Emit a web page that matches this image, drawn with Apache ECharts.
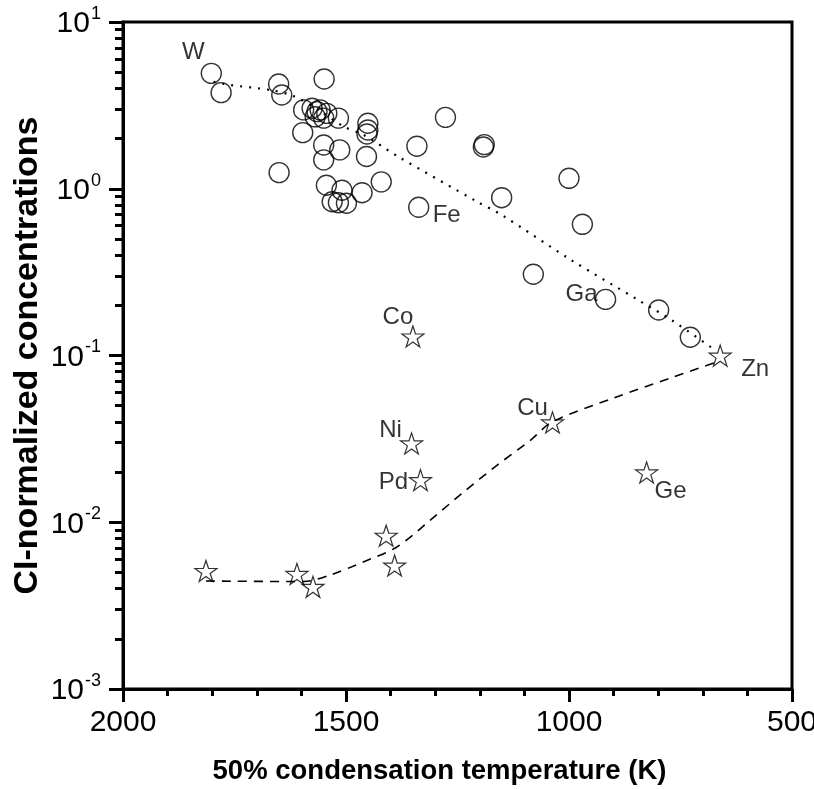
<!DOCTYPE html>
<html>
<head>
<meta charset="utf-8">
<script src="https://cdn.jsdelivr.net/npm/echarts@6/dist/echarts.min.js"></script>
<style>
html,body{margin:0;padding:0;background:#fff;}
#chart{width:814px;height:789px;}
</style>
</head>
<body>
<div id="chart"></div>
<script>
// ---- data ----
const circleTemp = [1802, 1780, 1651, 1644, 1549, 1595, 1576, 1565, 1558, 1543, 1569, 1550, 1517, 1597, 1451, 1451, 1453, 1550, 1514, 1550, 1454, 1341, 1277, 1650, 1544, 1509, 1464, 1421, 1531, 1517, 1499, 1337, 1192, 1190, 1000, 1151, 970, 1080, 918, 799, 728];
const circleConc = [4.92, 3.77, 4.25, 3.65, 4.55, 2.97, 3.04, 2.90, 2.97, 2.83, 2.70, 2.65, 2.65, 2.17, 2.47, 2.25, 2.13, 1.83, 1.71, 1.49, 1.56, 1.80, 2.68, 1.25, 1.05, 0.98, 0.947, 1.10, 0.836, 0.825, 0.818, 0.774, 1.78, 1.84, 1.155, 0.884, 0.612, 0.307, 0.217, 0.1875, 0.1286];
const circleNames = {0: 'W', 31: 'Fe', 38: 'Ga'};

const starTemp = [1350, 1353, 1333, 1410, 1391, 1814, 1610, 1574, 1037, 826, 661];
const starConc = [0.13, 0.0297, 0.0179, 0.0083, 0.0055, 0.0051, 0.0049, 0.0041, 0.0397, 0.0199, 0.0998];
const starNames = ['Co', 'Ni', 'Pd', '', '', '', '', '', 'Cu', 'Ge', 'Zn'];

const dottedTemp = [1797, 1760, 1670, 1618, 1562, 1505, 1460, 1385, 1206, 1150, 998, 846, 770, 671];
const dottedConc = [4.38, 4.19, 3.91, 3.60, 2.97, 2.36, 2.10, 1.57, 0.836, 0.694, 0.378, 0.216, 0.163, 0.107];

const dashedTemp = [1814, 1595, 1535, 1460, 1385, 1311, 1236, 1161, 1086, 1037, 900, 770, 671];
const dashedConc = [0.00444, 0.00441, 0.00483, 0.0058, 0.00713, 0.0103, 0.0152, 0.022, 0.0311, 0.0401, 0.0556, 0.0737, 0.091];

const xTicks = [500, 1000, 1500, 2000];
const yTickExponents = [-3, -2, -1, 0, 1];

// ---- styles ----
const FONT = 'Liberation Sans, Arial, sans-serif';
const NARROW = '"Liberation Sans Narrow", "Arial Narrow", "Liberation Sans", sans-serif';
const labelOffsets = {
  W: [-18, -21], Fe: [28, 8], Ga: [-24, -5],
  Co: [-15, -19], Ni: [-21, -13], Pd: [-27, 2],
  Cu: [-20, -14], Ge: [24, 19], Zn: [35, 14]
};
const STAR = 'path://M0,-100L22.45,-30.9L95.11,-30.9L36.33,11.8L58.78,80.9L0,38.2L-58.78,80.9L-36.33,11.8L-95.11,-30.9L-22.45,-30.9Z';

function withLabel(point, name) {
  if (!name) return point;
  return {
    value: point,
    name: name,
    label: {
      show: true, position: 'inside', offset: labelOffsets[name],
      formatter: name, fontSize: 24, fontFamily: FONT, color: '#000'
    }
  };
}

const circleData = circleTemp.map((t, i) => withLabel([t, circleConc[i]], circleNames[i]));
const starData = starTemp.map((t, i) => withLabel([t, starConc[i]], starNames[i]));
const dottedData = dottedTemp.map((t, i) => [t, dottedConc[i]]);
const dashedData = dashedTemp.map((t, i) => [t, dashedConc[i]]);

const chart = echarts.init(document.getElementById('chart'), null, {renderer: 'canvas'});
chart.setOption({
  backgroundColor: '#fff',
  animation: false,
  grid: {left: 123, right: 22, top: 22, bottom: 100, outerBoundsMode: 'none', containLabel: false,
         show: true, borderColor: '#000', borderWidth: 3, backgroundColor: 'transparent'},
  xAxis: {
    type: 'value', inverse: true,
    min: xTicks[0], max: xTicks[xTicks.length - 1], interval: 500,
    name: '50% condensation temperature (K)', nameLocation: 'middle', nameGap: 68, nameMoveOverlap: false,
    nameTextStyle: {fontSize: 27.5, fontWeight: 'bold', fontFamily: FONT, color: '#000', padding: [0, 36, 0, 0]},
    axisLine: {show: true, lineStyle: {color: '#000', width: 3}},
    axisTick: {show: true, length: 13, lineStyle: {color: '#000', width: 3}},
    minorTick: {show: true, splitNumber: 5, length: 7, lineStyle: {color: '#000', width: 3}},
    axisLabel: {fontSize: 30, fontFamily: NARROW, color: '#000', margin: 19, formatter: v => String(v)},
    splitLine: {show: false}
  },
  yAxis: {
    type: 'log', logBase: 10,
    min: Math.pow(10, yTickExponents[0]), max: Math.pow(10, yTickExponents[yTickExponents.length - 1]),
    name: 'CI-normalized concentrations', nameLocation: 'middle', nameGap: 78, nameRotate: 90, nameMoveOverlap: false,
    nameTextStyle: {fontSize: 34, fontWeight: 'bold', fontFamily: FONT, color: '#000'},
    axisLine: {show: true, lineStyle: {color: '#000', width: 3}},
    axisTick: {show: true, length: 14, lineStyle: {color: '#000', width: 3}},
    minorTick: {show: true, splitNumber: 9, length: 8, lineStyle: {color: '#000', width: 3}},
    axisLabel: {
      margin: 22, fontFamily: NARROW, color: '#000',
      formatter: v => '{b|10}{e|' + Math.round(Math.log10(v)) + '}',
      rich: {
        b: {fontSize: 30, fontFamily: NARROW, color: '#000', verticalAlign: 'bottom'},
        e: {fontSize: 18, fontFamily: NARROW, color: '#000', verticalAlign: 'bottom', padding: [0, 0, 16, 1]}
      }
    },
    splitLine: {show: false}
  },
  series: [
    {
      type: 'line', data: dottedData, showSymbol: false, smooth: 0.3, silent: true,
      lineStyle: {color: '#000', width: 2.2, type: [2, 7]}, z: 1
    },
    {
      type: 'line', data: dashedData, showSymbol: false, smooth: 0.3, silent: true,
      lineStyle: {color: '#000', width: 1.6, type: [9, 7]}, z: 1
    },
    {
      type: 'scatter', data: circleData, symbol: 'circle', symbolSize: 20,
      itemStyle: {color: 'transparent', borderColor: '#000', borderWidth: 1.4}, z: 2
    },
    {
      type: 'scatter', data: starData, symbol: STAR, symbolSize: [22, 21],
      itemStyle: {color: 'transparent', borderColor: '#000', borderWidth: 1.2}, z: 2
    }
  ]
});
</script>
</body>
</html>
